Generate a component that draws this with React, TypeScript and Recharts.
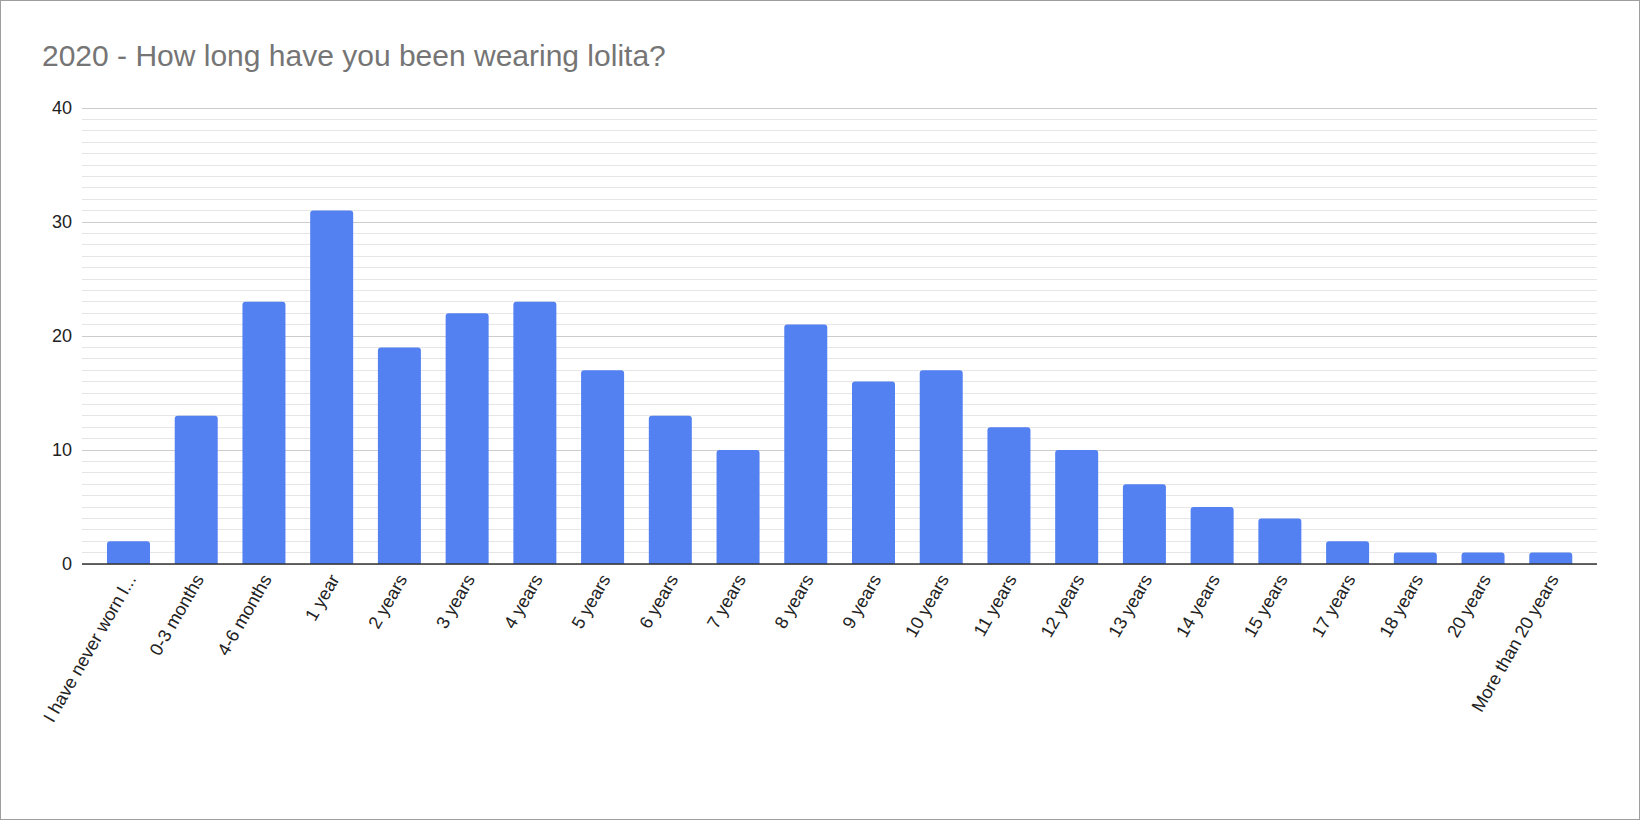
import React from "react";
import { BarChart, Bar, XAxis, YAxis, CartesianGrid } from "recharts";

// categories as they appear on the x axis
const categories = [
  "I have never worn l...",
  "0-3 months",
  "4-6 months",
  "1 year",
  "2 years",
  "3 years",
  "4 years",
  "5 years",
  "6 years",
  "7 years",
  "8 years",
  "9 years",
  "10 years",
  "11 years",
  "12 years",
  "13 years",
  "14 years",
  "15 years",
  "17 years",
  "18 years",
  "20 years",
  "More than 20 years",
];

// number of respondents per category
const counts = [2, 13, 23, 31, 19, 22, 23, 17, 13, 10, 21, 16, 17, 12, 10, 7, 5, 4, 2, 1, 1, 1];

const majorTicks = [0, 10, 20, 30, 40];
const minorTicks = [
  1, 2, 3, 4, 5, 6, 7, 8, 9, 11, 12, 13, 14, 15, 16, 17, 18, 19,
  21, 22, 23, 24, 25, 26, 27, 28, 29, 31, 32, 33, 34, 35, 36, 37, 38, 39,
];

const data = categories.map((name, i) => ({ name, count: counts[i] }));

const FONT = "Arial, 'Liberation Sans', sans-serif";

// slanted category label, anchored at its end just below the axis
const SlantTick = (props: any) => {
  const { x, y, payload } = props;
  return (
    <g transform={`translate(${x + 8},${y + 7})`}>
      <text
        x={0}
        y={0}
        textAnchor="end"
        fontSize={18}
        fontFamily={FONT}
        fill="#222"
        transform="rotate(-60)"
      >
        {payload.value}
      </text>
    </g>
  );
};

const App = () => {
  return (
    <div
      style={{
        position: "absolute",
        left: 0,
        top: 0,
        width: 1640,
        height: 820,
        boxSizing: "border-box",
        border: "1px solid #9e9e9e",
        background: "#fff",
        fontFamily: FONT,
      }}
    >
      <div
        style={{
          position: "absolute",
          left: 41,
          top: 40,
          fontSize: 30,
          lineHeight: "30px",
          color: "#757575",
          whiteSpace: "nowrap",
        }}
      >
        2020 - How long have you been wearing lolita?
      </div>
      <div style={{ position: "absolute", left: -1, top: -1 }}>
        <BarChart
          width={1640}
          height={820}
          data={data}
          margin={{ top: 108, right: 43, bottom: 0, left: 0 }}
        >
          {/* minor lines every unit, then the major ones on top */}
          <CartesianGrid
            vertical={false}
            horizontalValues={minorTicks}
            stroke="#e6e6e6"
            strokeWidth={1}
            shapeRendering="crispEdges"
          />
          <CartesianGrid
            vertical={false}
            horizontalValues={majorTicks}
            stroke="#cccccc"
            strokeWidth={1}
            shapeRendering="crispEdges"
          />
          <XAxis
            dataKey="name"
            interval={0}
            height={256}
            padding={{ left: 13, right: 12 }}
            tickLine={false}
            axisLine={{ stroke: "#333", strokeWidth: 1.5 }}
            tick={<SlantTick />}
          />
          <YAxis
            width={82}
            domain={[0, 40]}
            ticks={majorTicks}
            interval={0}
            axisLine={false}
            tickLine={false}
            tickSize={0}
            tickMargin={10}
            tick={{ fontSize: 18, fill: "#222", fontFamily: FONT }}
          />
          <Bar
            dataKey="count"
            fill="#5381f1"
            barSize={43}
            radius={[3, 3, 0, 0]}
            isAnimationActive={false}
          />
        </BarChart>
      </div>
    </div>
  );
};

export default App;
